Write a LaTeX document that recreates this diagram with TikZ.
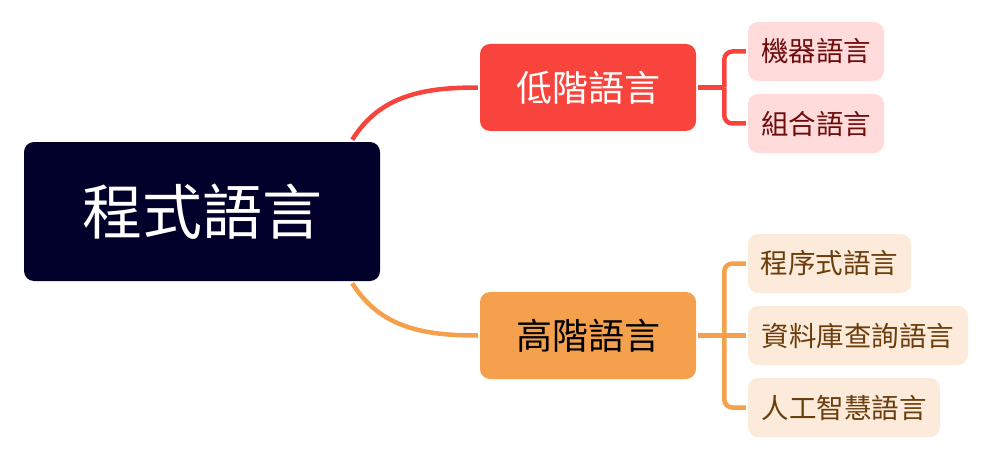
\documentclass[tikz,border=0pt]{standalone}
\usepackage{fontspec}
\setmainfont{Noto Sans CJK TC}
\usetikzlibrary{positioning}
\usetikzlibrary{backgrounds}
\definecolor{rootblue}{HTML}{01002A}
\definecolor{lowred}{HTML}{F9443D}
\definecolor{highorange}{HTML}{F5A04D}
\definecolor{lowleaf}{HTML}{FFDBDB}
\definecolor{lowtext}{HTML}{6E0B0B}
\definecolor{highleaf}{HTML}{FCEBDB}
\definecolor{hightext}{HTML}{6B3D0C}

\begin{document}
\begin{tikzpicture}[
x=1pt, y=1pt,
every node/.style={rectangle, rounded corners=10pt, inner sep=0},
rootbox/.style={fill=rootblue, text=white, minimum width=356pt, minimum height=139pt, font=\fontsize{60}{62}\selectfont},
branchbox/.style={minimum width=216pt, minimum height=87pt, font=\fontsize{36}{40}\selectfont},
leafbox/.style={minimum height=59pt, font=\fontsize{27.5}{30}\selectfont},
lowleafbox/.style={leafbox, fill=lowleaf, text=lowtext},
highleafbox/.style={leafbox, fill=highleaf, text=hightext},
every path/.style={line width=4.5pt}
]
\useasboundingbox (0,0) rectangle (984,456);
\node[rootbox] (root) at (202,244.5) {程式語言};
\node[branchbox, fill=lowred, text=white] (low) at (588,368.5) {低階語言};
\node[branchbox, fill=highorange, text=black] (high) at (588,120.5) {高階語言};
\node[lowleafbox, minimum width=136pt] (machine) at (816,404.5) {機器語言};
\node[lowleafbox, minimum width=136pt] (assembly) at (816,332.5) {組合語言};
\node[highleafbox, minimum width=163pt] (procedural) at (829.5,192.5) {程序式語言};
\node[highleafbox, minimum width=220pt] (query) at (858,120.5) {資料庫查詢語言};
\node[highleafbox, minimum width=192pt] (ai) at (844,48.5) {人工智慧語言};
\begin{scope}[on background layer]
\draw[lowred] ([xshift=-30pt]root.north east) to [out=58, in=180] (low.west);
\draw[highorange] ([xshift=-30pt]root.south east) to [out=-58, in=180] (high.west);
\draw[lowred] (low.east) -- ++(26,0) coordinate (lowfork);
\draw[lowred, rounded corners=8pt] (lowfork) |- (machine.west);
\draw[lowred, rounded corners=8pt] (lowfork) |- (assembly.west);
\draw[highorange] (high.east) -- (query.west);
\coordinate (highfork) at ([xshift=26pt]high.east);
\draw[highorange, rounded corners=8pt] (highfork) |- (procedural.west);
\draw[highorange, rounded corners=8pt] (highfork) |- (ai.west);
\end{scope}
\end{tikzpicture}
\end{document}
